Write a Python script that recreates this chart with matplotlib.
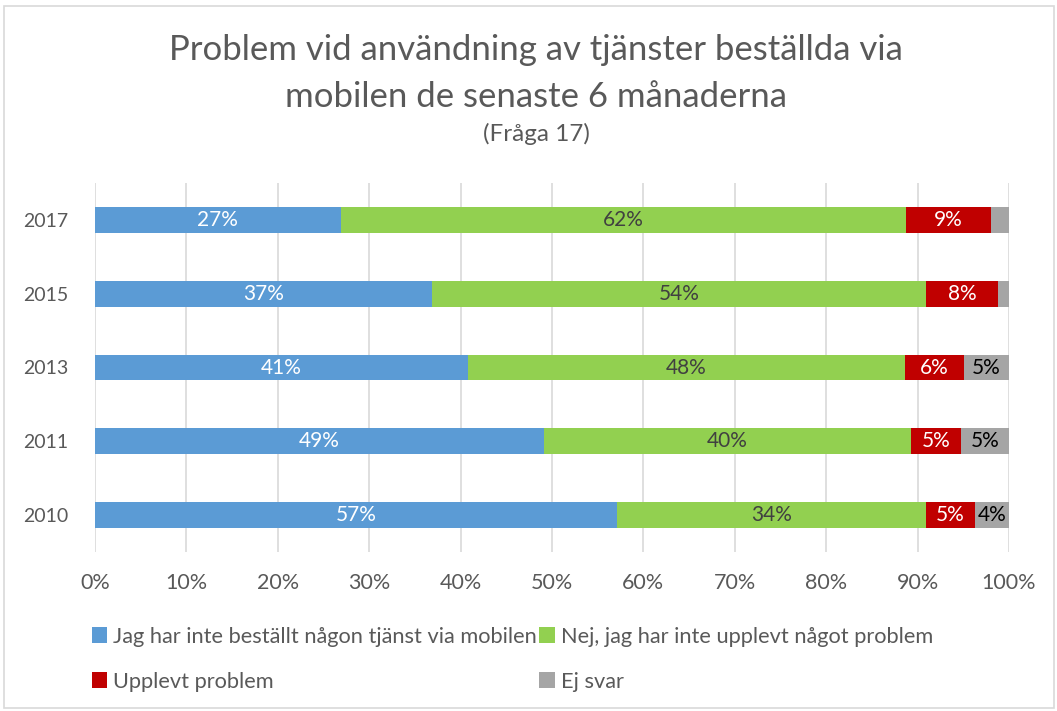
import matplotlib
matplotlib.use("Agg")
import matplotlib.pyplot as plt
from matplotlib.patches import Rectangle
import numpy as np

plt.rcParams['font.family'] = ['Lato', 'DejaVu Sans']

years = ['2010', '2011', '2013', '2015', '2017']
series = ['Jag har inte beställt någon tjänst via mobilen',
          'Nej, jag har inte upplevt något problem',
          'Upplevt problem',
          'Ej svar']
not_ordered = [57.1, 49.1, 40.8, 36.9, 26.9]
no_problem = [33.8, 40.2, 47.8, 54.0, 61.8]
had_problem = [5.4, 5.4, 6.5, 7.9, 9.3]
no_answer = [3.7, 5.3, 4.9, 1.2, 2.0]
labels = [
    ['57%', '49%', '41%', '37%', '27%'],
    ['34%', '40%', '48%', '54%', '62%'],
    ['5%', '5%', '6%', '8%', '9%'],
    ['4%', '5%', '5%', '', ''],
]
colors = ['#5b9bd5', '#92d050', '#c00000', '#a5a5a5']
text_colors = ['white', '#404040', 'white', 'black']

fig = plt.figure(figsize=(10.57, 7.11), dpi=100)
fig.patches.append(Rectangle((0.004, 0.004), 0.993, 0.988, transform=fig.transFigure,
                             fill=False, edgecolor='#d9d9d9', lw=1.2))
ax = fig.add_axes([95 / 1057, 1 - 552 / 711, 914 / 1057, 369 / 711])

y = np.arange(len(years))
left = np.zeros(len(years))
for vals, name, c, tc, labs in zip([not_ordered, no_problem, had_problem, no_answer],
                                   series, colors, text_colors, labels):
    vals = np.array(vals)
    ax.barh(y, vals, left=left, height=0.35, color=c, label=name, zorder=3)
    for yi, l, v, t in zip(y, left, vals, labs):
        if t:
            ax.text(l + v / 2, yi, t, ha='center', va='center', color=tc,
                    fontsize=15, zorder=4)
    left += vals

ax.set_xlim(0, 100)
ax.set_ylim(-0.5, 4.5)
ax.set_yticks(y)
ax.set_yticklabels(years)
ax.set_xticks(np.arange(0, 101, 10))
ax.set_xticklabels([f'{v}%' for v in range(0, 101, 10)])
ax.grid(axis='x', color='#d9d9d9', lw=1.2, zorder=0)
for s in ax.spines.values():
    s.set_visible(False)
ax.tick_params(axis='both', length=0, labelcolor='#595959')
ax.tick_params(axis='x', pad=15, labelsize=15.5)
ax.tick_params(axis='y', pad=19, labelsize=14)

cx = 536 / 1057
fig.text(cx, 1 - 50 / 711, 'Problem vid användning av tjänster beställda via',
         ha='center', va='center', fontsize=25, color='#595959')
fig.text(cx, 1 - 97 / 711, 'mobilen de senaste 6 månaderna',
         ha='center', va='center', fontsize=25, color='#595959')
fig.text(cx, 1 - 134 / 711, '(Fråga 17)', ha='center', va='center', fontsize=17.5, color='#595959')

handles, names = ax.get_legend_handles_labels()
order = [0, 2, 1, 3]
fig.legend([handles[i] for i in order], [names[i] for i in order],
           loc='upper left', bbox_to_anchor=(72 / 1057, 1 - 607 / 711), ncol=2, frameon=False,
           fontsize=15.7, labelcolor='#595959', handlelength=0.7, handleheight=0.7,
           handletextpad=0.3, columnspacing=0.1, labelspacing=1.15)

fig.savefig('out.png', dpi=100)
